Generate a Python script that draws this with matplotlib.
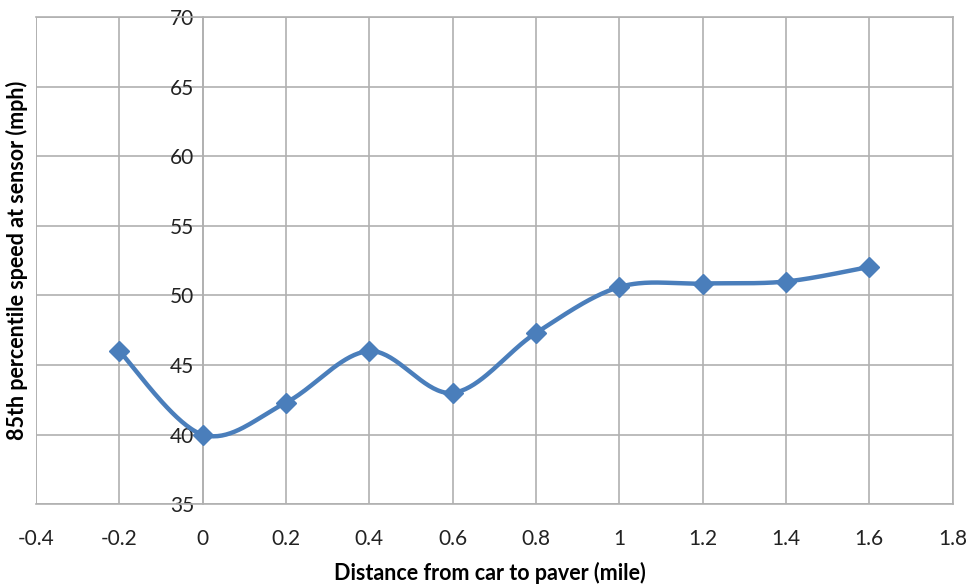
import numpy as np
import matplotlib
matplotlib.use("Agg")
import matplotlib.pyplot as plt

distance = [-0.2, 0.0, 0.2, 0.4, 0.6, 0.8, 1.0, 1.2, 1.4, 1.6]
speed = [46.0, 40.0, 42.3, 46.0, 43.0, 47.3, 50.6, 50.85, 51.0, 52.05]
x_ticks = [-0.4, -0.2, 0, 0.2, 0.4, 0.6, 0.8, 1.0, 1.2, 1.4, 1.6, 1.8]
x_tick_labels = ["-0.4", "-0.2", "0", "0.2", "0.4", "0.6", "0.8", "1", "1.2", "1.4", "1.6", "1.8"]
y_ticks = [35, 40, 45, 50, 55, 60, 65, 70]

plt.rcParams['font.family'] = ['Lato', 'DejaVu Sans']


def excel_smooth(xs, ys, n=40):
    pts = np.column_stack([xs, ys]).astype(float)
    ext = np.vstack([pts[0], pts, pts[-1]])
    out = []
    t = np.linspace(0, 1, n)[:, None]
    for i in range(1, len(ext) - 2):
        p0, p1, p2, p3 = ext[i - 1], ext[i], ext[i + 1], ext[i + 2]
        c1 = p1 + (p2 - p0) / 6.0
        c2 = p2 - (p3 - p1) / 6.0
        seg = ((1 - t) ** 3) * p1 + 3 * ((1 - t) ** 2) * t * c1 + 3 * (1 - t) * t ** 2 * c2 + t ** 3 * p2
        out.append(seg if i == 1 else seg[1:])
    arr = np.vstack(out)
    return arr[:, 0], arr[:, 1]


fig = plt.figure(figsize=(9.71, 5.87), dpi=100)
ax = fig.add_axes([0.037, 0.141, 0.944, 0.83])

grid_c = "#b0b0b0"
ax.set_xlim(-0.4, 1.8)
ax.set_ylim(35, 70)
ax.set_xticks(x_ticks)
ax.set_xticklabels(x_tick_labels)
ax.set_yticks(y_ticks)
ax.grid(True, color=grid_c, linewidth=1.2)
ax.set_axisbelow(True)

ax.spines['left'].set_position(('data', 0))
for s in ['left', 'right', 'top', 'bottom']:
    ax.spines[s].set_color(grid_c)
    ax.spines[s].set_linewidth(1.2)
ax.axvline(-0.4, color=grid_c, linewidth=1.2, zorder=0)

ax.tick_params(axis='both', length=0, labelsize=15, labelcolor="#222222")
ax.tick_params(axis='y', pad=6)
ax.tick_params(axis='x', pad=18)

sx, sy = excel_smooth(distance, speed)
line_c = "#4a7ebb"
ax.plot(sx, sy, color=line_c, linewidth=3.2, solid_capstyle='round', zorder=3)
ax.plot(distance, speed, linestyle='none', marker='D', markersize=10,
        color=line_c, zorder=4)

fig.text(0.505, 0.024, "Distance from car to paver (mile)", ha='center', va='center',
         fontsize=15.5, fontweight='bold')
fig.text(0.017, 0.557, "85th percentile speed at sensor (mph)", ha='center', va='center',
         rotation=90, fontsize=15.5, fontweight='bold')

fig.savefig("out.png", dpi=100)
